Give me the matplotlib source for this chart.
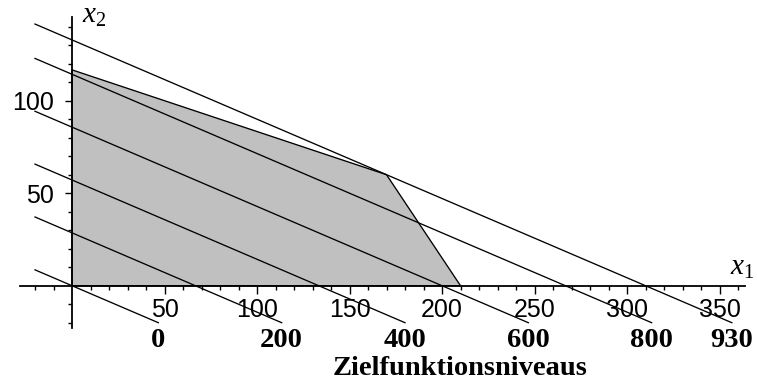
import numpy as np
import matplotlib
matplotlib.use("Agg")
import matplotlib.pyplot as plt
from matplotlib.patches import Polygon

plt.rcParams['mathtext.fontset'] = 'custom'
plt.rcParams['mathtext.it'] = 'Liberation Serif:italic'
plt.rcParams['mathtext.rm'] = 'Liberation Serif'

# feasible region (x1, x2) vertices
region_x1 = [0, 0, 170, 210]
region_x2 = [0, 350 / 3, 60, 0]

# objective z = 3*x1 + 7*x2 and the drawn levels
c1, c2 = 3, 7
levels = [0, 200, 400, 600, 800, 930]
line_lo = -20  # lines start at x1 = -20 and stop at x2 = -20

major_x = [50, 100, 150, 200, 250, 300, 350]
major_y = [50, 100]

fig = plt.figure(figsize=(7.57, 3.80), dpi=100)
ax = fig.add_axes([0, 0, 1, 1])
ax.set_xlim(-38.92, 370.27)
ax.set_ylim(-50.97, 154.43)

# region
poly = Polygon(np.column_stack([region_x1, region_x2]), closed=True,
               facecolor='#c0c0c0', edgecolor='black', linewidth=0.95, zorder=1)
ax.add_patch(poly)

# level lines
for z in levels:
    x_end = (z - c2 * line_lo) / c1
    xs = np.array([line_lo, x_end])
    ys = (z - c1 * xs) / c2
    ax.plot(xs, ys, color='black', linewidth=0.95, zorder=2)
    ax.text(x_end, -33, str(z), ha='center', va='baseline', fontsize=20.5,
            fontweight='bold', family='Liberation Serif')

ax.text(209.7, -48.3, 'Zielfunktionsniveaus', ha='center', va='baseline',
        fontsize=20.5, fontweight='bold', family='Liberation Serif')

# axes through origin
for s in ['top', 'right']:
    ax.spines[s].set_visible(False)
ax.spines['left'].set_position(('data', 0))
ax.spines['bottom'].set_position(('data', 0))
ax.spines['bottom'].set_bounds(-28, 364)
ax.spines['left'].set_bounds(-23, 145)
for s in ['left', 'bottom']:
    ax.spines[s].set_linewidth(1.3)
    ax.spines[s].set_zorder(3)

ax.set_xticks(major_x)
ax.set_xticks([v for v in range(-20, 361, 10) if v != 0 and v not in major_x], minor=True)
ax.set_yticks(major_y)
ax.set_yticks([v for v in range(-20, 141, 10) if v != 0 and v not in major_y], minor=True)
ax.tick_params(which='major', length=7.5 * 0.72, width=1.0)
ax.tick_params(which='minor', length=4 * 0.72, width=1.0)
ax.tick_params(axis='x', which='major', pad=3.5)
ax.tick_params(axis='y', which='major', pad=7.5)
for lab in ax.get_xticklabels() + ax.get_yticklabels():
    lab.set_fontsize(18)
    lab.set_family('Liberation Sans')

ax.text(355.7, 5.8, r'$x_1$', ha='left', va='baseline', fontsize=21)
ax.text(5.4, 142, r'$x_2$', ha='left', va='baseline', fontsize=21)

fig.savefig('out.png', dpi=100)
